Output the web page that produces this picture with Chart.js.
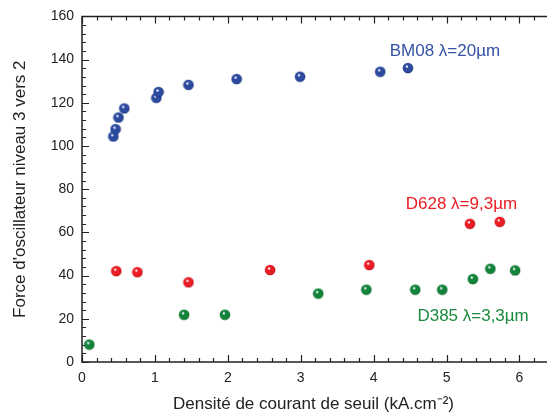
<!DOCTYPE html>
<html>
<head>
<meta charset="utf-8">
<script src="https://cdn.jsdelivr.net/npm/chart.js"></script>
<style>
  html, body { margin: 0; padding: 0; background: #fff; }
  #wrap { width: 550px; height: 417px; }
</style>
</head>
<body>
<div id="wrap"><canvas id="myChart" width="550" height="417"></canvas></div>
<script>
// values
const bm08X = [0.43, 0.46, 0.50, 0.58, 1.02, 1.05, 1.46, 2.12, 2.99, 4.09, 4.47];
const bm08Y = [104.4, 107.8, 113.2, 117.4, 122.3, 125.0, 128.3, 131.0, 132.1, 134.4, 136.1];
const d628X = [0.47, 0.76, 1.46, 2.58, 3.94, 5.32, 5.73];
const d628Y = [42.1, 41.6, 36.9, 42.6, 44.9, 64.0, 64.9];
const d385X = [0.10, 1.40, 1.96, 3.24, 3.90, 4.57, 4.94, 5.36, 5.60, 5.94];
const d385Y = [8.1, 21.9, 21.9, 31.7, 33.5, 33.5, 33.5, 38.4, 43.2, 42.4];

const seriesNames = ['BM08 λ=20µm', 'D628 λ=9,3µm', 'D385 λ=3,3µm'];
const xTicks = [0, 1, 2, 3, 4, 5, 6];
const yTicks = [0, 20, 40, 60, 80, 100, 120, 140, 160];

const toPts = (xs, ys) => xs.map((x, i) => ({ x: x, y: ys[i] }));

// little shaded ball used as the marker
function ball(col, dark) {
  const c = document.createElement('canvas');
  c.width = 12; c.height = 12;
  const g = c.getContext('2d');
  const grad = g.createRadialGradient(4.6, 4.2, 0, 6, 6, 5.6);
  grad.addColorStop(0, '#ffffff');
  grad.addColorStop(0.12, '#f4f4ff');
  grad.addColorStop(0.3, col);
  grad.addColorStop(0.8, col);
  grad.addColorStop(1, dark);
  g.fillStyle = grad;
  g.beginPath();
  g.arc(6, 6, 5.3, 0, Math.PI * 2);
  g.fill();
  return c;
}

const blue = '#2c4b9f', red = '#ec1c24', green = '#13853a';

// inward ticks + frame, like the original plot
const frame = {
  id: 'frame',
  beforeDatasetsDraw(chart) {
    const { ctx, chartArea: a, scales: { x, y } } = chart;
    ctx.save();
    ctx.strokeStyle = '#222';
    ctx.lineWidth = 1.5;
    ctx.beginPath();
    ctx.moveTo(a.right + 2, a.top); ctx.lineTo(a.left, a.top);
    ctx.lineTo(a.left, a.bottom); ctx.lineTo(a.right + 2, a.bottom);
    ctx.stroke();
    ctx.lineWidth = 1.2;
    ctx.beginPath();
    for (let v = 0; v <= x.max + 1e-6; v += 0.2) {
      const px = Math.round(x.getPixelForValue(v)) + 0.5;
      const major = Math.abs(v - Math.round(v)) < 1e-6;
      const len = major ? 7 : 4;
      ctx.moveTo(px, a.bottom); ctx.lineTo(px, a.bottom - len);
      ctx.moveTo(px, a.top); ctx.lineTo(px, a.top + len);
    }
    for (let v = 0; v <= y.max + 1e-6; v += 4) {
      const py = Math.round(y.getPixelForValue(v)) + 0.5;
      const len = v % 20 === 0 ? 7 : 4;
      ctx.moveTo(a.left, py); ctx.lineTo(a.left + len, py);
    }
    ctx.stroke();
    ctx.restore();
  },
  afterDatasetsDraw(chart) {
    const { ctx, scales: { x, y } } = chart;
    const spots = [[4.22, 144, '#3553a6'], [4.44, 72.9, red], [4.60, 21.0, '#1a8a3e']];
    ctx.save();
    ctx.font = '17px "Liberation Sans", Arial, sans-serif';
    ctx.textBaseline = 'middle';
    seriesNames.forEach((s, i) => {
      ctx.fillStyle = spots[i][2];
      ctx.fillText(s, x.getPixelForValue(spots[i][0]), y.getPixelForValue(spots[i][1]));
    });
    ctx.restore();
  }
};

const ctx = document.getElementById('myChart');
new Chart(ctx, {
  type: 'scatter',
  data: {
    datasets: [
      { label: seriesNames[0], data: toPts(bm08X, bm08Y), pointStyle: ball(blue, '#15296a') },
      { label: seriesNames[1], data: toPts(d628X, d628Y), pointStyle: ball(red, '#9a0c12') },
      { label: seriesNames[2], data: toPts(d385X, d385Y), pointStyle: ball(green, '#06501f') }
    ]
  },
  options: {
    responsive: false,
    animation: false,
    devicePixelRatio: 1,
    layout: { padding: { top: 13, right: 1, bottom: 0, left: 0 } },
    plugins: { legend: { display: false }, tooltip: { enabled: false } },
    scales: {
      x: {
        type: 'linear', min: 0, max: 6.35,
        afterFit(s) { s.height = 55; },
        afterBuildTicks(s) { s.ticks = xTicks.map(v => ({ value: v })); },
        grid: { display: false, drawTicks: false },
        border: { display: false },
        ticks: { color: '#222', padding: 8, font: { size: 14, family: '"Liberation Sans", Arial' } },
        title: {
          display: true, text: 'Densité de courant de seuil (kA.cm⁻²)', color: '#222',
          padding: { top: 0, bottom: 2 }, font: { size: 17, family: '"Liberation Sans", Arial' }
        }
      },
      y: {
        min: 0, max: 160,
        afterFit(s) { s.width = 82; },
        afterBuildTicks(s) { s.ticks = yTicks.map(v => ({ value: v })); },
        grid: { display: false, drawTicks: false },
        border: { display: false },
        ticks: { color: '#222', padding: 8, font: { size: 14, family: '"Liberation Sans", Arial' } },
        title: {
          display: true, text: "Force d'oscillateur niveau 3 vers 2", color: '#222',
          padding: { top: 10, bottom: 0 }, font: { size: 17, family: '"Liberation Sans", Arial' }
        }
      }
    }
  },
  plugins: [frame]
});
</script>
</body>
</html>
